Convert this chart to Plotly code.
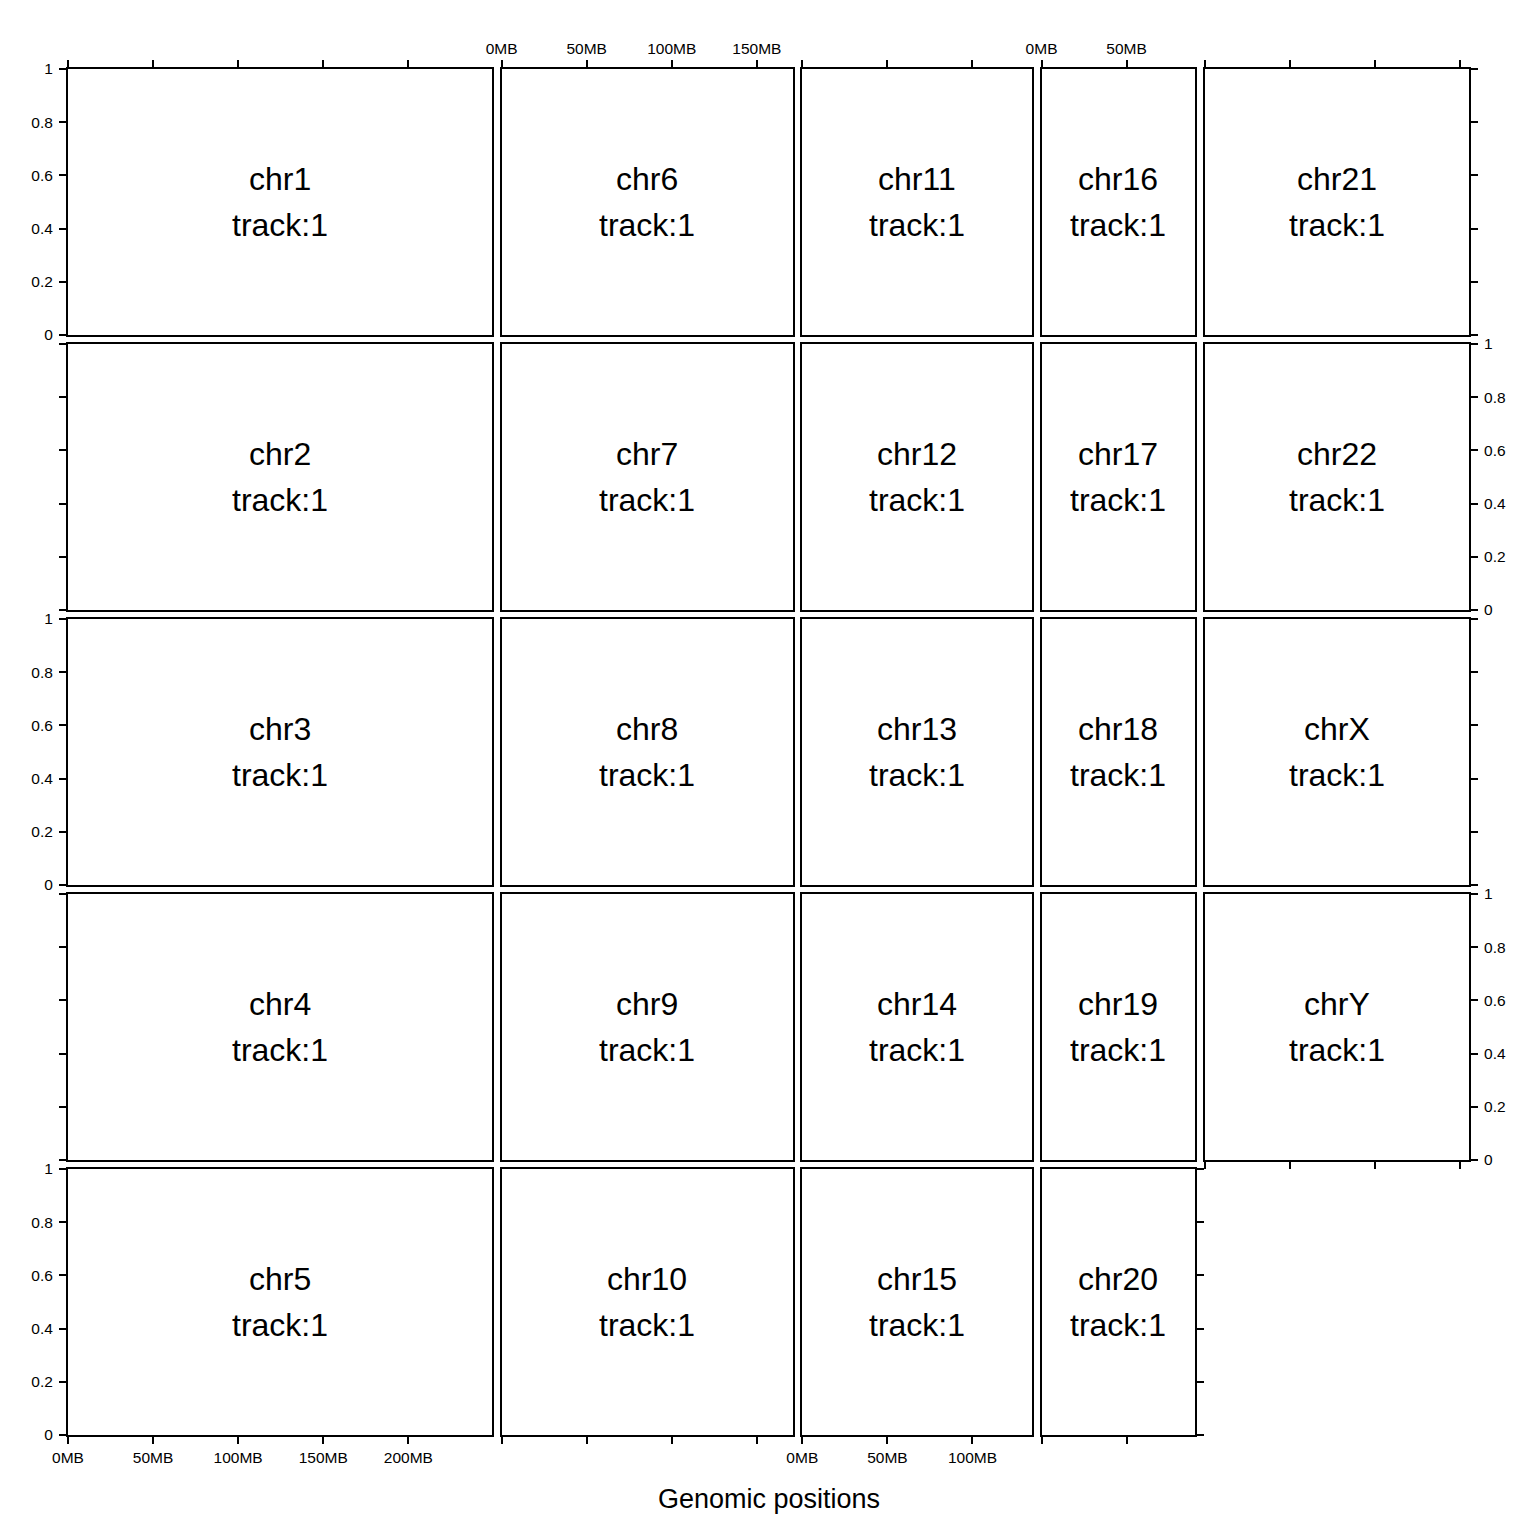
import plotly.graph_objects as go

# ---------------- data ----------------
chromosomes = ["chr1", "chr2", "chr3", "chr4", "chr5",
               "chr6", "chr7", "chr8", "chr9", "chr10",
               "chr11", "chr12", "chr13", "chr14", "chr15",
               "chr16", "chr17", "chr18", "chr19", "chr20",
               "chr21", "chr22", "chrX", "chrY"]
chrom_lengths = [249250621, 243199373, 198022430, 191154276, 180915260,
                 171115067, 159138663, 146364022, 141213431, 135534747,
                 135006516, 133851895, 115169878, 107349540, 102531392,
                 90354753, 81195210, 78077248, 59128983, 63025520,
                 48129895, 51304566, 155270560, 59373566]
layout_columns = [["chr1", "chr2", "chr3", "chr4", "chr5"],
                  ["chr6", "chr7", "chr8", "chr9", "chr10"],
                  ["chr11", "chr12", "chr13", "chr14", "chr15"],
                  ["chr16", "chr17", "chr18", "chr19", "chr20"],
                  ["chr21", "chr22", "chrX", "chrY"]]
track_label = "track:1"
x_tick_mb = [0, 50, 100, 150, 200]
x_tick_text = ["0MB", "50MB", "100MB", "150MB", "200MB"]
y_tick_vals = [0, 0.2, 0.4, 0.6, 0.8, 1]
y_tick_text = ["0", "0.2", "0.4", "0.6", "0.8", "1"]
x_title = "Genomic positions"

# ---------------- layout geometry (pixels) ----------------
W = H = 1536
LEFT, RIGHT = 68, 1469
TOP, BOTTOM = 69, 1435
XGAP, YGAP = 9.5, 9
NROW = 5
FONT = "Liberation Sans, Arial, sans-serif"

length_of = dict(zip(chromosomes, chrom_lengths))
col_max = [max(length_of[c] for c in col) for col in layout_columns]
total = sum(col_max)
usable_w = (RIGHT - LEFT) - XGAP * (len(layout_columns) - 1)
row_h = ((BOTTOM - TOP) - YGAP * (NROW - 1)) / NROW

fig = go.Figure()
layout = {}
annotations = []

k = 0
x0 = LEFT
for ci, col in enumerate(layout_columns):
    cw = usable_w * col_max[ci] / total
    nrows_col = len(col)
    for ri, chrom in enumerate(col):
        k += 1
        y_top = TOP + ri * (row_h + YGAP)
        y_bot = y_top + row_h
        xd = [x0 / W, (x0 + cw) / W]
        yd = [1 - y_bot / H, 1 - y_top / H]
        sfx = "" if k == 1 else str(k)

        fig.add_trace(go.Scatter(x=[None], y=[None], mode="markers",
                                 xaxis="x" + sfx, yaxis="y" + sfx,
                                 showlegend=False, hoverinfo="skip"))

        # x-axis configuration
        is_first = ri == 0
        is_last = ri == nrows_col - 1
        tv = [t * 1e6 for t in x_tick_mb if t * 1e6 <= col_max[ci]]
        tt = [x_tick_text[i] for i, t in enumerate(x_tick_mb) if t * 1e6 <= col_max[ci]]
        xa = dict(domain=xd, range=[0, col_max[ci]], anchor="y" + sfx,
                  automargin=False,
                  showgrid=False, zeroline=False, showline=True, mirror=True,
                  linecolor="black", linewidth=2, fixedrange=True,
                  tickvals=tv, ticktext=tt, tickcolor="black", tickwidth=1.8,
                  ticklen=7, tickfont=dict(family=FONT, size=15.5, color="black"))
        if is_first and ci % 2 == 1:
            xa.update(side="top", ticks="outside", showticklabels=True)
        elif is_first:
            xa.update(side="top", ticks="outside", showticklabels=False)
        elif is_last and ri == NROW - 1 and ci % 2 == 0:
            xa.update(side="bottom", ticks="outside", showticklabels=True)
        elif is_last:
            xa.update(side="bottom", ticks="outside", showticklabels=False)
        else:
            xa.update(ticks="", showticklabels=False)

        # y-axis configuration
        ya = dict(domain=yd, range=[0, 1], anchor="x" + sfx,
                  automargin=False,
                  showgrid=False, zeroline=False, showline=True, mirror=True,
                  linecolor="black", linewidth=2, fixedrange=True,
                  tickvals=y_tick_vals, ticktext=y_tick_text,
                  tickcolor="black", tickwidth=1.8, ticklen=7,
                  ticklabelstandoff=3,
                  tickfont=dict(family=FONT, size=15.5, color="black"))
        if ci == 0:
            ya.update(side="left", ticks="outside", showticklabels=(ri % 2 == 0))
        elif ci == len(layout_columns) - 1:
            ya.update(side="right", ticks="outside", showticklabels=(ri % 2 == 1))
        elif ci == len(layout_columns) - 2 and ri == NROW - 1:
            ya.update(side="right", ticks="outside", showticklabels=False)
        else:
            ya.update(ticks="", showticklabels=False)

        layout["xaxis" + sfx] = xa
        layout["yaxis" + sfx] = ya

        for txt, shift in ((chrom, 23), (track_label, -23)):
            annotations.append(dict(text=txt, x=0.5, y=0.5,
                                    xref="x" + sfx + " domain", yref="y" + sfx + " domain",
                                    yshift=shift, showarrow=False,
                                    xanchor="center", yanchor="middle",
                                    font=dict(family=FONT, size=32, color="black")))
    x0 += cw + XGAP

annotations.append(dict(text=x_title, x=(LEFT + RIGHT) / 2 / W, y=1 - 1499 / H,
                        xref="paper", yref="paper", showarrow=False,
                        xanchor="center", yanchor="middle",
                        font=dict(family=FONT, size=27, color="black")))

fig.update_layout(**layout)
fig.update_layout(template="none", width=W, height=H,
                  margin=dict(l=0, r=0, t=0, b=0, autoexpand=False),
                  paper_bgcolor="white", plot_bgcolor="white",
                  annotations=annotations, showlegend=False)

fig.write_html("out.html")
